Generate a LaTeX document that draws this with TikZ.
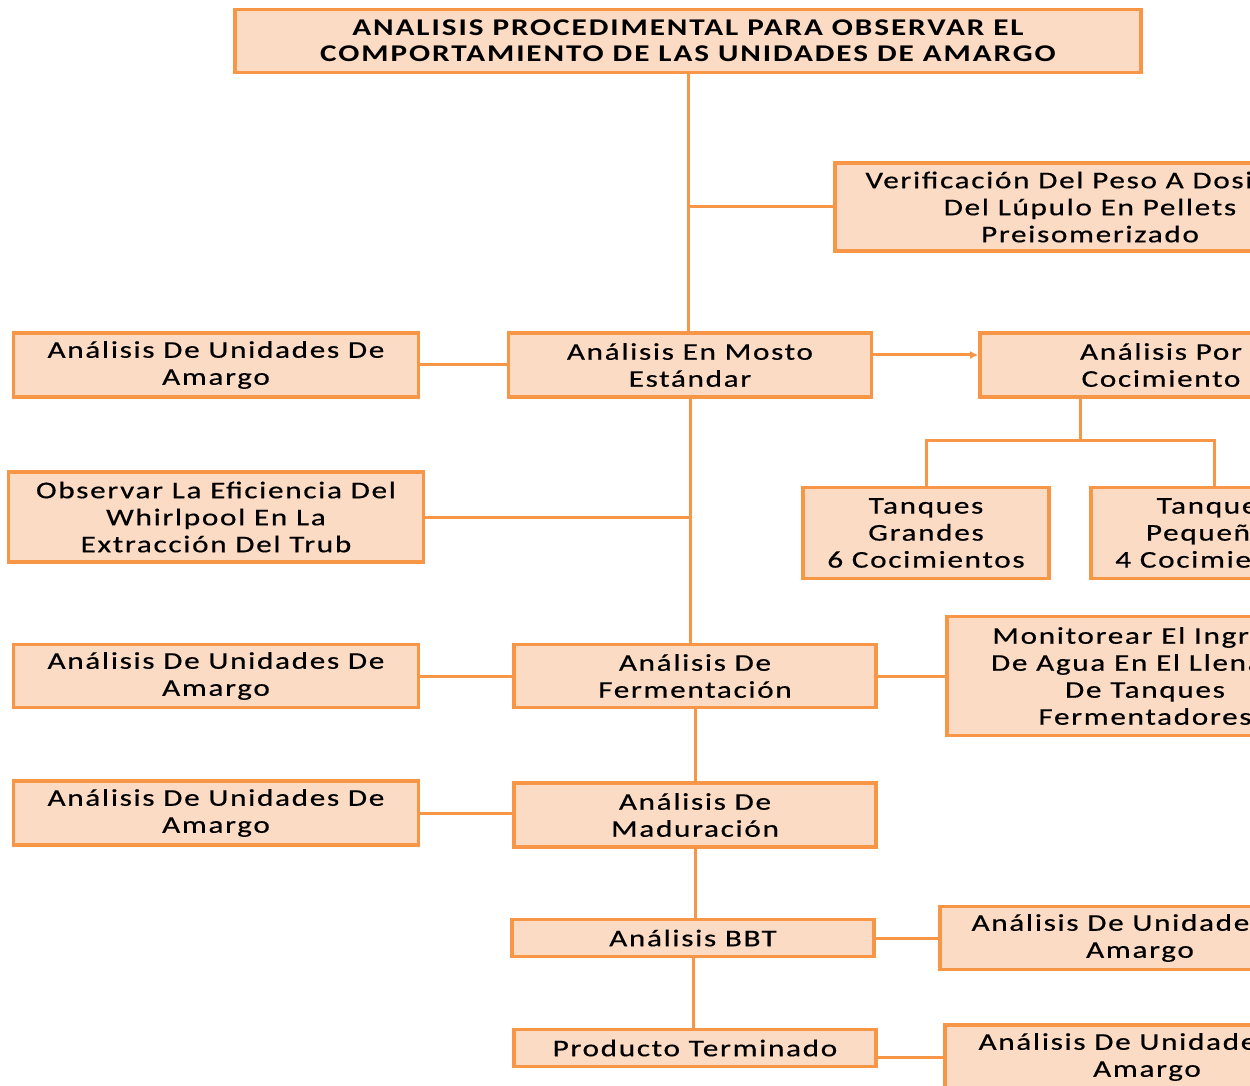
\documentclass[tikz,border=0pt]{standalone}
\usepackage{fontspec}
\setmainfont{Carlito}[FakeStretch=1.3,LetterSpace=7,FakeBold=0.5]
\newfontfamily\titulofont{Carlito}[FakeStretch=1.3,LetterSpace=8]
\usetikzlibrary{arrows.meta}
\definecolor{naranja}{RGB}{247,150,70}
\definecolor{durazno}{RGB}{252,219,196}
\tikzset{
  caja/.style={draw=naranja, fill=durazno, line width=1.8pt, align=center, inner sep=0pt,
    font=\fontsize{12}{13.5}\selectfont},
  enlace/.style={draw=naranja, line width=1.5pt},
}

\begin{document}
\begin{tikzpicture}[x=0.5pt,y=-0.5pt]
  %%%%% MARCO %%%%%
  \useasboundingbox (0,0) rectangle (1250,1086);
  \clip (0,0) rectangle (1250,1086);

  %%%%% CAJAS %%%%%
  \node[caja, minimum width=453pt, minimum height=31.5pt, font=\titulofont\bfseries\fontsize{12}{13}\selectfont]
    (titulo) at (688,41) {ANALISIS PROCEDIMENTAL PARA OBSERVAR EL\\COMPORTAMIENTO DE LAS UNIDADES DE AMARGO};
  \node[caja, minimum width=255pt, minimum height=44pt] (verif) at (1090,207)
    {Verificación Del Peso A Dosificar\\Del Lúpulo En Pellets\\Preisomerizado};

  \node[caja, minimum width=181.5pt, minimum height=32pt] (mosto) at (690,365) {Análisis En Mosto\\Estándar};
  \node[caja, minimum width=202.5pt, minimum height=32pt] (auaA) at (216,365) {Análisis De Unidades De\\Amargo};
  \node[caja, minimum width=181pt, minimum height=32pt] (coc) at (1161,365) {Análisis Por\\Cocimiento};

  \node[caja, minimum width=207.5pt, minimum height=45pt] (obs) at (216,517)
    {Observar La Eficiencia Del\\Whirlpool En La\\Extracción Del Trub};
  \node[caja, minimum width=123pt, minimum height=45.5pt] (tqG) at (926,533) {Tanques\\Grandes\\6 Cocimientos};
  \node[caja, minimum width=123pt, minimum height=45.5pt] (tqP) at (1214,533) {Tanques\\Pequeños\\4 Cocimientos};

  \node[caja, minimum width=202.5pt, minimum height=31.5pt] (auaB) at (216,676) {Análisis De Unidades De\\Amargo};
  \node[caja, minimum width=181pt, minimum height=31.5pt] (ferm) at (695,676) {Análisis De\\Fermentación};
  \node[caja, minimum width=198pt, minimum height=59.5pt] (moni) at (1145,676)
    {Monitorear El Ingreso\\De Agua En El Llenado\\De Tanques\\Fermentadores};

  \node[caja, minimum width=202.5pt, minimum height=32pt] (auaC) at (216,813) {Análisis De Unidades De\\Amargo};
  \node[caja, minimum width=181pt, minimum height=32pt] (mad) at (695,815) {Análisis De\\Maduración};

  \node[caja, minimum width=181pt, minimum height=18.5pt] (bbt) at (693,938) {Análisis BBT};
  \node[caja, minimum width=200pt, minimum height=31.5pt] (auaD) at (1140,938) {Análisis De Unidades De\\Amargo};

  \node[caja, minimum width=181pt, minimum height=18.5pt] (prod) at (695,1048) {Producto Terminado};
  \node[caja, minimum width=202pt, minimum height=32pt] (auaE) at (1147,1057) {Análisis De Unidades De\\Amargo};

  \coordinate (bifurca) at (1080,440);

  %%%%% ENLACES %%%%%
  \draw[enlace] (titulo.south) -- (titulo.south |- mosto.north);
  \draw[enlace] (titulo.south |- verif.west) -- (verif.west);
  \draw[enlace] (auaA.east) -- (mosto.west);
  \draw[enlace,-{Latex[length=4pt,width=4pt]}] ([yshift=5pt]mosto.east) -- ([yshift=5pt]coc.west);
  \draw[enlace] (bifurca |- coc.south) -- (bifurca);
  \draw[enlace] (tqG.north) |- (bifurca) -| (tqP.north);
  \draw[enlace] (mosto.south) -- (mosto.south |- ferm.north);
  \draw[enlace] (obs.east) -- (obs.east -| mosto.south);
  \draw[enlace] (auaB.east) -- (ferm.west);
  \draw[enlace] (ferm.east) -- (ferm.east -| moni.west);
  \draw[enlace] (ferm.south) -- (mad.north);
  \draw[enlace] (auaC.east) -- (auaC.east -| mad.west);
  \draw[enlace] (mad.south) -- (mad.south |- bbt.north);
  \draw[enlace] (bbt.east) -- (auaD.west);
  \draw[enlace] (bbt.south) -- (bbt.south |- prod.north);
  \draw[enlace] (prod.east |- auaE.west) -- (auaE.west);
\end{tikzpicture}
\end{document}
